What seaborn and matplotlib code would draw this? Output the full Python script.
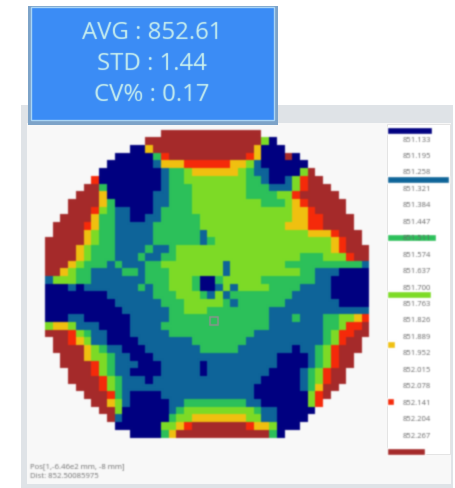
import numpy as np
import pandas as pd
import matplotlib
matplotlib.use("Agg")
import matplotlib.pyplot as plt
from matplotlib.colors import ListedColormap
from matplotlib.patches import Rectangle
import seaborn as sns

W, H = 456, 489
STATS = ["AVG : 852.61", "STD : 1.44", "CV% : 0.17"]
FOOT = ["Pos[1,-6.46e2 mm, -8 mm]", "Dist: 852.50085975"]
LEVEL_LABELS = ["851.133", "851.195", "851.258", "851.321", "851.384", "851.447", "851.511",
                "851.574", "851.637", "851.700", "851.763", "851.826", "851.889", "851.952",
                "852.015", "852.078", "852.141", "852.204", "852.267"]
COLORS = ["#000080", "#0e6499", "#2cc05a", "#7ddb26", "#f0c010", "#f52a0a", "#a52a2a"]
BAR_INDEX = [-0.52, 2.46, 5.98, 9.47, 12.47, 15.97, 19.0]
BAR_COUNT = [45, 62, 49, 44, 8, 7, 38]

# One row per line: first column, then level:end-column runs.
# Levels: 0 navy, 1 blue, 2 green, 3 lime, 4 yellow, 5 red, 6 brown.
WAFER_ROWS = """
15 6:28
13 6:28 3:29 0:30
11 0:13 4:14 6:27 4:28 0:31
9 0:14 2:15 5:16 6:26 5:27 4:28 0:31 6:32 0:33
8 0:14 1:15 4:18 5:24 4:26 3:27 1:28 0:34
7 0:15 1:16 2:18 3:19 4:25 3:26 2:27 1:29 0:33 3:34 6:35
6 5:7 0:15 1:16 2:18 3:26 2:28 1:29 0:31 1:32 3:33 5:34 6:36
5 6:7 2:8 0:15 1:16 2:19 3:26 2:29 1:32 3:33 5:34 6:37
4 6:7 4:8 0:14 1:16 2:19 3:26 2:30 3:32 5:33 6:38
3 6:7 4:8 2:9 0:14 1:16 2:19 3:28 2:31 3:32 4:33 5:34 6:39
3 6:6 5:7 3:8 2:9 1:11 0:14 1:15 2:19 3:32 4:34 5:35 6:39
2 6:6 4:7 2:9 1:11 0:13 1:15 2:20 3:32 4:34 5:36 6:40
1 6:5 5:6 4:7 2:9 1:14 2:20 3:31 4:34 5:36 6:40
1 6:5 4:6 3:7 2:9 1:14 2:20 1:21 3:34 4:37 5:38 6:41
0 6:5 4:6 3:7 2:9 1:14 2:20 1:21 2:22 3:37 4:38 5:39 6:41
0 6:4 4:5 3:6 2:9 1:13 2:14 1:16 2:17 3:37 4:38 5:39 6:42
0 6:4 4:5 3:6 2:9 1:12 2:13 1:15 2:17 3:33 2:36 3:39 5:40 6:42
0 6:3 4:4 3:5 2:8 1:9 2:10 1:13 2:15 3:23 1:24 3:31 2:41 1:42
0 6:2 4:3 3:4 2:6 1:10 2:12 1:13 2:16 3:23 1:24 3:33 2:35 1:38 0:42
0 1:1 3:4 2:6 1:13 2:16 3:19 2:20 0:22 2:23 3:28 2:35 1:37 0:42
0 0:3 1:4 0:5 1:12 2:13 1:14 2:16 3:19 2:20 0:22 1:23 3:24 1:25 3:29 2:33 1:37 0:42
0 0:8 1:14 2:17 3:20 2:21 1:22 3:23 1:24 2:32 1:37 0:42
0 0:9 1:15 2:18 3:23 2:24 1:25 2:31 1:38 0:42
0 0:10 1:16 2:18 3:21 2:29 1:42
0 0:3 1:5 0:11 1:16 2:29 1:32 2:33 1:36 2:38 3:40 4:41 5:42
0 3:1 4:3 3:4 1:7 0:11 1:15 2:29 1:36 2:38 3:39 5:41 6:42
0 6:3 5:4 3:5 2:6 1:8 0:11 1:16 2:27 1:36 2:37 3:38 5:40 6:42
1 6:3 5:4 4:5 3:6 1:8 0:12 1:19 2:26 1:36 2:37 3:38 5:39 6:41
1 6:5 4:6 3:7 2:8 1:10 0:13 1:20 2:25 1:32 0:33 1:35 2:36 3:37 5:38 6:41
2 6:5 4:6 3:8 2:9 1:11 0:14 1:30 0:34 1:35 2:36 3:37 5:38 6:40
2 6:6 5:7 3:8 2:9 1:12 0:15 1:20 0:21 1:30 0:34 1:35 2:36 3:37 5:38 6:40
3 6:6 5:7 3:8 2:9 1:11 0:15 1:20 0:21 1:29 0:33 1:34 2:35 3:36 5:37 6:39
3 6:7 5:8 3:9 2:10 1:13 0:14 1:28 0:33 1:34 2:35 3:36 5:37 6:39
4 6:7 5:8 3:9 2:10 1:27 0:33 1:34 2:35 4:36 6:38
5 6:8 5:9 2:10 1:11 0:15 1:27 0:34 3:35 5:36 6:37
6 6:8 4:9 3:10 1:11 0:16 1:18 2:26 1:28 0:34 3:35 5:36
7 6:9 3:10 0:16 1:17 2:18 3:27 2:28 1:30 0:35
8 6:9 1:10 0:16 2:17 3:19 4:26 3:28 1:30 0:34
9 0:15 3:17 4:18 5:19 6:26 5:27 4:29 3:30 0:33
11 0:15 2:16 4:17 6:29 2:30 0:31
"""
N_COLS = 42
MARK_COL, MARK_ROW = 21.9, 24.8

lines = WAFER_ROWS.strip().splitlines()
grid = np.full((len(lines), N_COLS), np.nan)
for r, line in enumerate(lines):
    parts = line.split()
    c = int(parts[0])
    for run in parts[1:]:
        lvl, end = run.split(":")
        grid[r, c:int(end)] = int(lvl)
        c = int(end)
df = pd.DataFrame(grid)


def blur(sigma):
    """agg filter: gaussian blur on alpha-weighted colour, to match the soft screenshot."""
    rad = int(np.ceil(sigma * 3))
    k = np.exp(-0.5 * (np.arange(-rad, rad + 1) / sigma) ** 2)
    k /= k.sum()

    def conv(a, axis):
        out = np.zeros_like(a)
        for off, w in zip(range(-rad, rad + 1), k):
            out += w * np.roll(a, off, axis=axis)
        return out

    def f(img, dpi):
        a = np.pad(img, ((rad, rad), (rad, rad), (0, 0)))
        alpha = a[..., 3:]
        pm = np.concatenate([a[..., :3] * alpha, alpha], axis=2)
        pm = conv(conv(pm, 0), 1)
        al = np.clip(pm[..., 3:], 1e-6, 1)
        rgb = np.clip(pm[..., :3] / al, 0, 1)
        return np.concatenate([rgb, pm[..., 3:]], axis=2), -rad, -rad
    return f


def px_axes(fig, x0, y0, x1, y1, **kw):
    return fig.add_axes([x0 / W, 1 - y1 / H, (x1 - x0) / W, (y1 - y0) / H], **kw)


sns.set_theme(style="white")
plt.rcParams["font.family"] = ["Open Sans", "DejaVu Sans"]
fig = plt.figure(figsize=(W / 100, H / 100), dpi=100, facecolor="white")

bg = px_axes(fig, 0, 0, W, H)
bg.set_xlim(0, W); bg.set_ylim(H, 0); bg.axis("off")
bg.add_patch(Rectangle((21, 106), 432, 383, fc="#dfe3e7", ec="none"))
bg.add_patch(Rectangle((27, 124), 424, 361, fc="#f8f8f8", ec="none"))
bg.add_patch(Rectangle((387, 125), 63, 330, fc="white", ec="#e4e4e4", lw=0.7))
bg.add_patch(Rectangle((28, 7), 250, 119, fc="#7da3c8", ec="none"))
bg.add_patch(Rectangle((31, 8), 243, 113, fc="#3b8cf5", ec="#a8d4f5", lw=1))
for y, t in zip([33, 64, 95], STATS):
    tx = bg.text(152, y, t, color="#cdf2ee", fontsize=17.3, ha="center", va="center")
    tx.set_agg_filter(blur(0.5))
for y, t in zip([467, 477], FOOT):
    tx = bg.text(30, y, t, color="#6f6f6f", fontsize=5.6, ha="left", va="center")
    tx.set_agg_filter(blur(0.7))

ax = px_axes(fig, 45, 130.7, 369.5, 438.5)
sns.heatmap(df, ax=ax, cmap=ListedColormap(COLORS), vmin=-0.5, vmax=6.5, cbar=False,
            xticklabels=False, yticklabels=False, square=False)
ax.patch.set_alpha(0)
ax.collections[0].set_agg_filter(blur(0.8))
ax.plot([MARK_COL], [MARK_ROW], marker="s", ms=6, mfc="none", mec="#909090", mew=1.1,
        ls="none", agg_filter=blur(0.5))

leg = px_axes(fig, 387, 125, 456, 460)
leg.patch.set_alpha(0)
for s in leg.spines.values():
    s.set_visible(False)
leg.set_xlim(0, 69)
# one label step is 16.45 px; label 0 sits at y = 140
leg.set_ylim((460 - 140) / 16.45, (125 - 140) / 16.45)
bars = leg.barh(BAR_INDEX, BAR_COUNT, height=0.42, color=COLORS)
for b in bars:
    b.set_agg_filter(blur(0.7))
leg.set_xticks([]); leg.set_yticks([])
for i, t in enumerate(LEVEL_LABELS):
    tx = leg.text(16, i, t, fontsize=5.5, color="#666666", va="center", ha="left")
    tx.set_agg_filter(blur(0.7))

fig.savefig("out.png", dpi=100)
